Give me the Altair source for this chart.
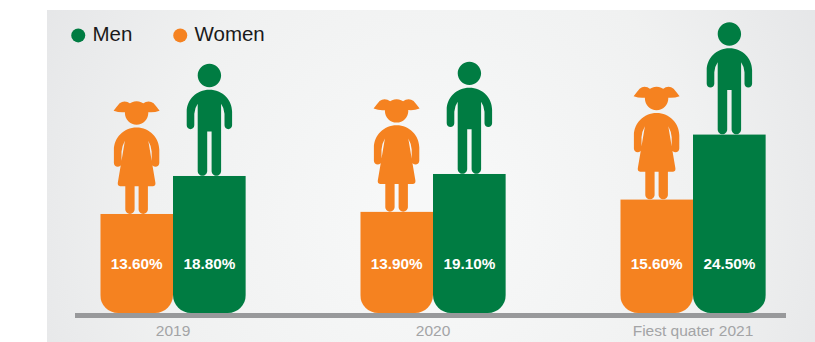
import altair as alt
import pandas as pd

periods = ["2019", "2020", "Fiest quater 2021"]
women = [13.6, 13.9, 15.6]
men = [18.8, 19.1, 24.5]
sexes = ["Men", "Women"]
palette = ["#007c42", "#f58220"]

# Pictograms, drawn with the feet at the origin; at size 4 one path unit is one pixel.
MAN = (
    "M-11.7 -100.3A11.7 11.7 0 1 1 11.7 -100.3A11.7 11.7 0 1 1 -11.7 -100.3Z"
    "M0 -86C13 -86 22.7 -76 22.7 -64L22.7 -50.5A3.8 3.8 0 0 1 15.1 -50.5L15.1 -62"
    "Q14.6 -68 11.7 -72L11.7 -4.75A4.75 4.75 0 0 1 2.2 -4.75L2.2 -44.3L-2.2 -44.3"
    "L-2.2 -4.75A4.75 4.75 0 0 1 -11.7 -4.75L-11.7 -72Q-14.6 -68 -15.1 -62L-15.1 -50.5"
    "A3.8 3.8 0 0 1 -22.7 -50.5L-22.7 -64C-22.7 -76 -13 -86 0 -86Z"
)
WOMAN = (
    "M-11.7 -100.7A11.7 11.7 0 1 1 11.7 -100.7A11.7 11.7 0 1 1 -11.7 -100.7Z"
    "M6 -110Q12 -114.5 17 -110.5Q20 -107 23 -103Q16 -100.5 9 -102Z"
    "M-9 -102Q-16 -100.5 -23 -103Q-20 -107 -17 -110.5Q-12 -114.5 -6 -110Z"
    "M0 -86.3C13 -86.3 22.7 -76 22.7 -64L22.7 -50.8A3.8 3.8 0 0 1 15.1 -50.8L15.1 -62"
    "Q14.6 -68 11.7 -73L18.8 -31Q19.2 -28 16.5 -27.5L11.3 -27.5L11.3 -4.5"
    "A4.5 4.5 0 0 1 2 -4.5L2 -27.5L-2 -27.5L-2 -4.5A4.5 4.5 0 0 1 -11.3 -4.5L-11.3 -27.5"
    "L-16.5 -27.5Q-19.2 -28 -18.8 -31L-11.7 -73Q-14.6 -68 -15.1 -62L-15.1 -50.8"
    "A3.8 3.8 0 0 1 -22.7 -50.8L-22.7 -64C-22.7 -76 -13 -86.3 0 -86.3Z"
)

rows = []
for period, w, m in zip(periods, women, men):
    rows.append({"period": period, "sex": "Women", "share": w, "label": f"{w:.2f}%"})
    rows.append({"period": period, "sex": "Men", "share": m, "label": f"{m:.2f}%"})
data = pd.DataFrame(rows)

x = alt.X(
    "period:N",
    sort=periods,
    title=None,
    scale=alt.Scale(range=[43, 823], paddingInner=0.44, paddingOuter=0.22),
    axis=alt.Axis(
        domain=False,
        ticks=False,
        labelAngle=0,
        labelFontSize=15.5,
        labelColor="#a3a4a6",
        labelPadding=10,
        zindex=1,
    ),
)
x_offset = alt.XOffset(
    "sex:N", sort=["Women", "Men"], scale=alt.Scale(paddingInner=0, paddingOuter=0)
)
y = alt.Y("share:Q", title=None, axis=None, scale=alt.Scale(domain=[0, 42.9]))

backdrop = (
    alt.Chart(data)
    .mark_rect(
        fill=alt.RadialGradient(
            gradient="radial",
            x1=0.5, y1=0.55, r1=0.05,
            x2=0.5, y2=0.55, r2=0.62,
            stops=[
                alt.GradientStop(offset=0, color="#f7f8f8"),
                alt.GradientStop(offset=0.55, color="#f0f1f1"),
                alt.GradientStop(offset=1, color="#e3e4e6"),
            ],
        )
    )
    .encode(x=alt.value(47), x2=alt.value(815), y=alt.value(10), y2=alt.value(342))
)

ground = (
    alt.Chart(data)
    .mark_rect(color="#98999b")
    .encode(x=alt.value(75), x2=alt.value(786), y=alt.value(313), y2=alt.value(318))
)

bars = (
    alt.Chart(data)
    .mark_bar(cornerRadiusBottomLeft=18, cornerRadiusBottomRight=18)
    .encode(
        x=x,
        xOffset=x_offset,
        y=y,
        color=alt.Color(
            "sex:N",
            scale=alt.Scale(domain=sexes, range=palette),
            legend=alt.Legend(
                orient="none",
                legendX=68,
                legendY=25,
                direction="horizontal",
                title=None,
                symbolType="circle",
                symbolSize=196,
                symbolStrokeWidth=0,
                labelFontSize=20.5,
                labelColor="#1a1a1a",
                labelOffset=4,
                columnPadding=37,
            ),
        ),
    )
)


def figures(sex, path, colour):
    return (
        alt.Chart(data)
        .transform_filter(alt.datum.sex == sex)
        .mark_point(shape=path, size=4, filled=True, opacity=1, color=colour, strokeWidth=0)
        .encode(x=x, xOffset=x_offset, y=y)
    )


labels = (
    alt.Chart(data)
    .mark_text(color="white", fontWeight="bold", fontSize=15.3, baseline="middle")
    .encode(x=x, xOffset=x_offset, y=alt.value(264), text="label:N")
)

chart = (
    alt.layer(
        backdrop,
        bars,
        ground,
        figures("Women", WOMAN, palette[1]),
        figures("Men", MAN, palette[0]),
        labels,
    )
    .properties(
        width=815,
        height=313,
        padding={"left": 0, "top": 0, "right": 0, "bottom": 29},
        background="white",
    )
    .configure(font="Liberation Sans", autosize=alt.AutoSizeParams(type="none"))
    .configure_view(stroke=None)
)

chart.save("out.html", embed_options={"renderer": "svg", "actions": False})
